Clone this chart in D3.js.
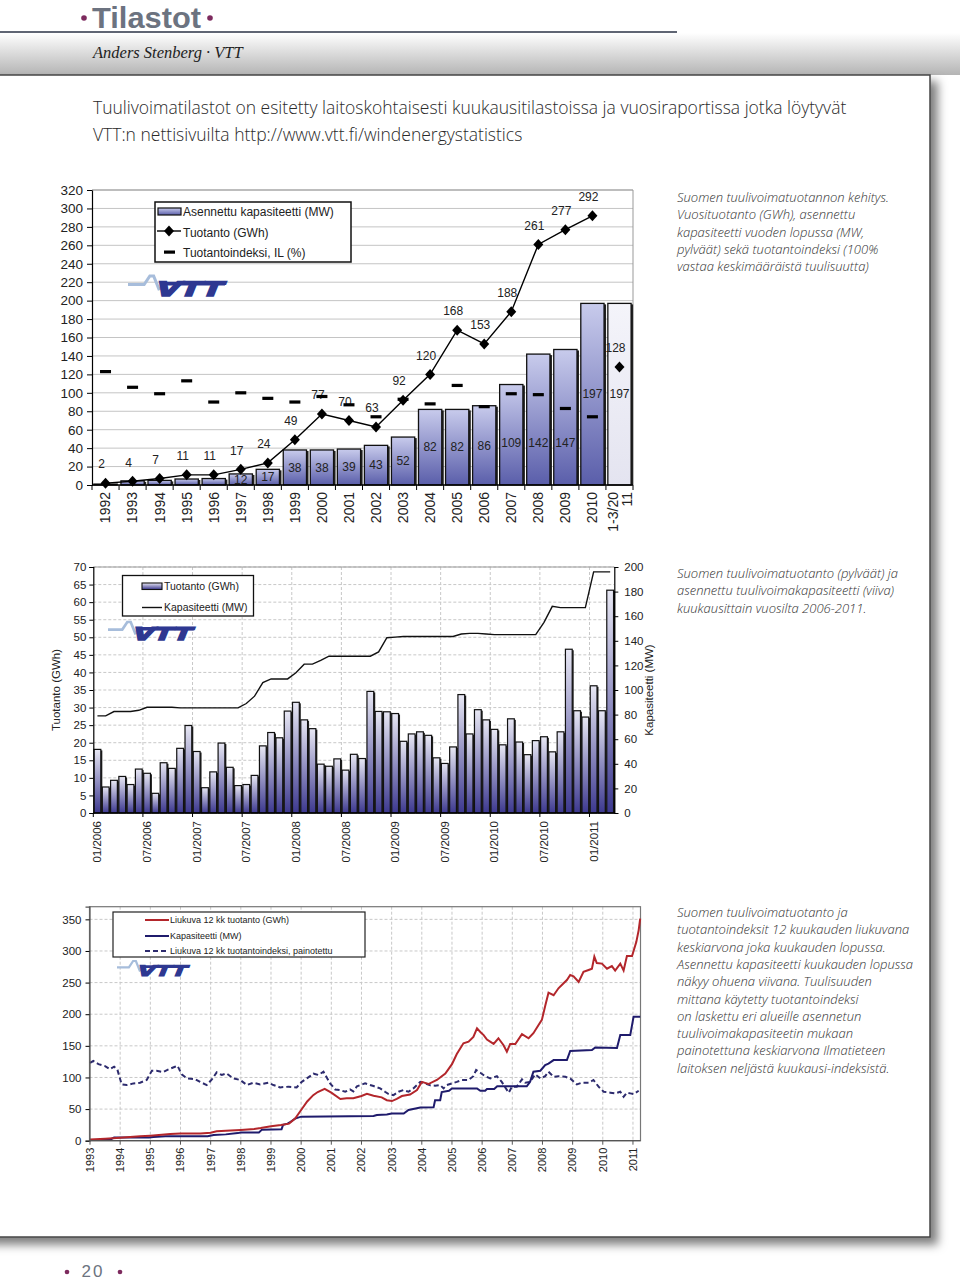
<!DOCTYPE html>
<html><head><meta charset="utf-8">
<script src="https://cdn.jsdelivr.net/npm/d3@7"></script>
<style>
body{margin:0;background:#fff;}
svg{display:block;font-family:"Liberation Sans",Arial,sans-serif;}
</style></head><body>
<svg id="page" width="960" height="1281"></svg>
<script>
// ---------------- DATA ----------------
const annualCategories = ["1992","1993","1994","1995","1996","1997","1998","1999","2000","2001","2002","2003","2004","2005","2006","2007","2008","2009","2010","1-3/2011"];
const annualCapacity = [1,4.5,5,6.5,7,12,17,38,38,39,43,52,82,82,86,109,142,147,197,197];
const annualProduction = [2,4,7,11,11,17,24,49,77,70,63,92,120,168,153,188,261,277,292,128];
const annualIndex = [123,106,99,113,90,100,94,90,96,87,74,93,88,108,85,99,98,83,74,null];
const annualTicks = [0,20,40,60,80,100,120,140,160,180,200,220,240,260,280,300,320];

const monthlyProduction = [
  18.1,7.4,9.3,10.4,8.1,12.5,11.3,5.6,14.3,12.7,18.4,24.9,
  17.5,7.2,11.7,19.9,13.0,7.8,8.1,10.7,19.1,22.9,21.4,29.0,
  31.5,26.5,24.0,13.9,13.3,15.4,12.2,16.7,15.5,34.6,28.9,28.8,
  28.3,20.4,22.5,23.1,22.1,15.7,14.1,18.8,33.7,22.5,29.4,26.5,
  23.8,19.4,26.8,20.2,16.6,20.6,21.7,17.4,23.1,46.6,29.1,27.3,
  36.2,29.1,63.4];
const monthlyCapacity = [
  79,79,82.5,82.5,82.5,83.5,86,86,86,86,85.5,85.5,
  85.5,85.5,85.5,85.5,85.5,85.5,89,95,106,109,109,109,
  114,121,121,124,127.5,127.5,127.5,127.5,127.5,127.5,131,142.5,
  143,143.5,143.5,143.5,143.5,143.5,143.5,143.5,145.5,146,146,145.5,
  145,145,145,145,145,145,155,168,167,167,167,167,
  196,196,196];
const monthTickLabels = ["01/2006","07/2006","01/2007","07/2007","01/2008","07/2008","01/2009","07/2009","01/2010","07/2010","01/2011"];
const prodTicksGWh = [0,5,10,15,20,25,30,35,40,45,50,55,60,65,70];
const capTicksMW = [0,20,40,60,80,100,120,140,160,180,200];

const rollingProduction = [[1993.0,2],[1993.5,3],[1994.0,4.5],[1994.66,7],[1995.0,8],[1995.66,10.5],[1996.0,11.5],[1996.66,11.5],[1997.0,12.5],[1997.2,15],[1997.66,16],[1998.0,17],[1998.44,18.5],[1998.66,20],[1999.0,23],[1999.33,25],[1999.6,27],[1999.8,35],[2000.0,48.5],[2000.2,62],[2000.4,72],[2000.55,77],[2000.78,82],[2001.0,76],[2001.3,66],[2001.51,67],[2001.73,67],[2002.0,70.6],[2002.18,74],[2002.4,71],[2002.67,68.5],[2002.84,64],[2003.01,62.7],[2003.17,66],[2003.34,70.6],[2003.61,73],[2003.84,80],[2004.0,93],[2004.22,89.6],[2004.5,96],[2004.78,106],[2005.0,121],[2005.16,137],[2005.38,154],[2005.55,156.5],[2005.71,164],[2005.83,177.6],[2005.94,172],[2006.05,167],[2006.16,160],[2006.38,153],[2006.54,162],[2006.71,151],[2006.82,140.7],[2006.93,153],[2007.1,153],[2007.32,168.6],[2007.54,162],[2007.7,170],[2007.87,183],[2007.98,191],[2008.09,213],[2008.2,234],[2008.37,230],[2008.53,241],[2008.7,249],[2008.81,254],[2008.92,262],[2009.03,260],[2009.2,251],[2009.36,267],[2009.53,270],[2009.64,272],[2009.72,291],[2009.8,281],[2009.97,280],[2010.14,272],[2010.3,276],[2010.41,269],[2010.58,280],[2010.69,269],[2010.8,292],[2010.97,292],[2011.11,314],[2011.19,333],[2011.24,351]];
const rollingCapacity = [[1993.0,1],[1993.66,1.5],[1993.8,5],[1994.95,5],[1995.1,6],[1995.5,7],[1996.9,7],[1997.1,9],[1997.5,10],[1997.9,12],[1998.0,13],[1998.6,13],[1998.7,17.5],[1999.35,18],[1999.4,25],[1999.55,27],[1999.65,30],[1999.8,35],[2000.0,38],[2002.4,39],[2002.51,40.5],[2002.84,41.6],[2003.0,43],[2003.4,43],[2003.56,48.5],[2003.95,52.5],[2004.39,52.7],[2004.44,64],[2004.61,64],[2004.66,77],[2004.9,79],[2005.0,82.7],[2005.83,82.7],[2005.94,79],[2006.1,79],[2006.16,81.7],[2006.4,81.7],[2006.5,86],[2007.48,86],[2007.59,93],[2007.7,109],[2007.93,110.6],[2008.09,119.6],[2008.2,122],[2008.37,127.5],[2008.81,127.5],[2008.92,142],[2009.64,143.3],[2009.75,147.5],[2010.47,146.5],[2010.58,167],[2010.91,167],[2011.02,196],[2011.24,196]];
const rollingIndex = [[1993.0,123],[1993.11,126],[1993.28,121],[1993.5,118],[1993.66,113],[1993.8,117],[1993.91,112],[1994.05,89],[1994.22,88],[1994.44,90.6],[1994.66,91.7],[1994.88,96],[1995.05,110.6],[1995.21,110.6],[1995.43,108.5],[1995.6,112.7],[1995.82,117],[1995.9,118.5],[1996.04,105],[1996.21,98.5],[1996.48,97.5],[1996.65,93],[1996.87,88],[1997.04,97],[1997.2,108],[1997.37,104],[1997.53,106.4],[1997.75,98.5],[1997.98,96],[1998.2,88],[1998.42,91.7],[1998.64,89],[1998.91,91.7],[1999.08,88],[1999.3,84.3],[1999.58,85.4],[1999.85,84.3],[2000.02,93],[2000.19,98.5],[2000.41,106],[2000.57,104],[2000.74,109],[2000.96,90.6],[2001.13,81],[2001.29,80],[2001.46,77.4],[2001.62,81],[2001.73,78],[2001.85,86],[2002.12,90.6],[2002.4,86.4],[2002.62,82.7],[2002.78,77.4],[2002.9,73.8],[2003.06,72],[2003.23,77.4],[2003.39,80],[2003.56,77.4],[2003.72,82.7],[2003.95,93],[2004.11,90.6],[2004.28,87.5],[2004.44,87],[2004.61,88],[2004.72,82.7],[2004.83,88],[2005.0,90.6],[2005.16,93],[2005.33,96],[2005.55,96],[2005.71,102],[2005.8,111.7],[2005.94,107.5],[2006.1,102],[2006.27,98.5],[2006.49,102],[2006.65,93],[2006.88,75.9],[2006.99,85.4],[2007.15,85.4],[2007.32,97],[2007.43,91.7],[2007.59,93],[2007.76,105],[2007.93,98.5],[2008.09,102],[2008.2,109],[2008.37,101],[2008.53,102],[2008.76,101],[2008.92,98.5],[2009.14,89],[2009.31,91.7],[2009.53,91.7],[2009.69,96],[2009.86,85.4],[2010.03,77.4],[2010.25,75.9],[2010.41,74.8],[2010.58,77.4],[2010.69,69.5],[2010.8,75.9],[2010.91,74.8],[2011.02,73.8],[2011.19,79]];
const yearTicks = [1993,1994,1995,1996,1997,1998,1999,2000,2001,2002,2003,2004,2005,2006,2007,2008,2009,2010,2011];
const rollingTicks = [0,50,100,150,200,250,300,350];

const legend1 = ["Asennettu kapasiteetti (MW)","Tuotanto (GWh)","Tuotantoindeksi, IL (%)"];
const legend2 = ["Tuotanto (GWh)","Kapasiteetti (MW)"];
const legend3 = ["Liukuva 12 kk tuotanto (GWh)","Kapasiteetti (MW)","Liukuva 12 kk tuotantoindeksi, painotettu"];

const introLines = ["Tuulivoimatilastot on esitetty laitoskohtaisesti kuukausitilastoissa ja vuosiraportissa jotka löytyvät","VTT:n nettisivuilta http://www.vtt.fi/windenergystatistics"];
const caption1 = ["Suomen tuulivoimatuotannon kehitys.","Vuosituotanto (GWh), asennettu","kapasiteetti vuoden lopussa (MW,","pylväät) sekä tuotantoindeksi (100%","vastaa keskimääräistä tuulisuutta)"];
const caption2 = ["Suomen tuulivoimatuotanto (pylväät) ja","asennettu tuulivoimakapasiteetti (viiva)","kuukausittain vuosilta 2006-2011."];
const caption3 = ["Suomen tuulivoimatuotanto ja","tuotantoindeksit 12 kuukauden liukuvana","keskiarvona joka kuukauden lopussa.","Asennettu kapasiteetti kuukauden lopussa","näkyy ohuena viivana. Tuulisuuden","mittana käytetty tuotantoindeksi","on laskettu eri alueille asennetun","tuulivoimakapasiteetin mukaan","painotettuna keskiarvona Ilmatieteen","laitoksen neljästä kuukausi-indeksistä."];

// ---------------- PAGE ----------------
const svg = d3.select("#page");
const defs = svg.append("defs");
const TXT = "#222";
const FONT = "'Liberation Sans', Arial, sans-serif";
const CAP_FONT = "'Open Sans', 'Noto Sans', sans-serif";

const flt = defs.append("filter").attr("id","shadow").attr("x","-5%").attr("y","-5%").attr("width","115%").attr("height","115%");
flt.append("feDropShadow").attr("dx",7).attr("dy",7).attr("stdDeviation",5).attr("flood-color","#000").attr("flood-opacity",0.5);

function vgrad(id, stops){
  const g = defs.append("linearGradient").attr("id",id).attr("x1",0).attr("y1",0).attr("x2",0).attr("y2",1);
  stops.forEach(s=>g.append("stop").attr("offset",s[0]).attr("stop-color",s[1]));
}
vgrad("hband",[[0,"#ffffff"],[1,"#b4b4b4"]]);
vgrad("bar1",[[0,"#c8cbec"],[1,"#5a5eaa"]]);
vgrad("bar1last",[[0,"#f4f4fa"],[1,"#e4e4f0"]]);
vgrad("bar2",[[0,"#e8e8f4"],[1,"#3c388f"]]);

svg.append("rect").attr("x",0).attr("y",33).attr("width",960).attr("height",42).attr("fill","url(#hband)");
svg.append("rect").attr("x",-20).attr("y",75).attr("width",950).attr("height",1162)
  .attr("fill","#fff").attr("stroke","#444").attr("stroke-width",1.5).attr("filter","url(#shadow)");
svg.append("line").attr("x1",0).attr("x2",677).attr("y1",32).attr("y2",32).attr("stroke","#5f6573").attr("stroke-width",2);

// title
svg.append("circle").attr("cx",84).attr("cy",18).attr("r",2.8).attr("fill","#7d2a5e");
svg.append("circle").attr("cx",210).attr("cy",18).attr("r",2.8).attr("fill","#7d2a5e");
svg.append("text").attr("x",92).attr("y",28).text("Tilastot")
  .attr("font-family",FONT).attr("font-weight",700).attr("font-size",29).attr("fill","#6c7380")
  .attr("textLength",109).attr("lengthAdjust","spacingAndGlyphs");
svg.append("text").attr("x",93).attr("y",58).text("Anders Stenberg · VTT")
  .attr("font-family","'Liberation Serif', serif").attr("font-style","italic").attr("font-size",16.5).attr("fill","#222");

introLines.forEach((t,i)=>{
  svg.append("text").attr("x",93).attr("y",114+i*27).text(t)
    .attr("font-family","'Open Sans', sans-serif").attr("font-weight",300).attr("font-size",17.5).attr("fill","#2a2a2a");
});

function caption(lines, x, y0, lh){
  lines.forEach((t,i)=>svg.append("text").attr("x",x).attr("y",y0+i*lh).text(t)
    .attr("font-family",CAP_FONT).attr("font-style","italic").attr("font-weight",300).attr("font-size",13).attr("fill","#333"));
}
caption(caption1,677,202,17.3);
caption(caption2,677,578,17.3);
caption(caption3,677,917,17.3);

// page number
svg.append("circle").attr("cx",67).attr("cy",1272).attr("r",2.3).attr("fill","#7d2a5e");
svg.append("circle").attr("cx",120).attr("cy",1272).attr("r",2.3).attr("fill","#7d2a5e");
svg.append("text").attr("x",93).attr("y",1277).attr("text-anchor","middle").text("20")
  .attr("font-family",FONT).attr("font-size",17).attr("letter-spacing",2).attr("fill","#6c7380");

function vttLogo(x, y, s){
  const g = svg.append("g").attr("transform",`translate(${x},${y}) scale(${s})`);
  g.append("path").attr("d","M0,9 L17,9 L23,0 L27,0 L33,15").attr("fill","none").attr("stroke","#a7bddb").attr("stroke-width",3.2);
  const d = g.append("g").attr("transform","translate(30,0) skewX(-22)");
  d.append("rect").attr("x",8).attr("y",6).attr("width",68).attr("height",4).attr("fill","#2e3891");
  d.append("text").attr("x",6).attr("y",21.5).text("VTT").attr("font-family","'DejaVu Sans', sans-serif")
    .attr("font-weight",900).attr("font-size",21).attr("fill","#2e3891").attr("stroke","#2e3891").attr("stroke-width",1.6)
    .attr("textLength",70).attr("lengthAdjust","spacingAndGlyphs");
}

function styleAxis(g, size){
  g.selectAll("text").attr("font-family",FONT).attr("font-size",size).attr("fill",TXT);
  g.selectAll("line").attr("stroke","#000");
  g.select(".domain").attr("stroke","#000").attr("stroke-width",1.2);
}

// ---------------- CHART 1 ----------------
(function(){
  const L=92,R=633,T=190,B=485;
  const x = d3.scaleBand().domain(annualCategories).range([L,R]);
  const y = d3.scaleLinear().domain([0,320]).range([B,T]);
  const g = svg.append("g");
  const bw = x.bandwidth(), cx = c=>x(c)+bw/2;
  g.selectAll(".gl").data(annualTicks.filter(d=>d>0)).join("line")
    .attr("x1",L).attr("x2",R).attr("y1",d=>y(d)).attr("y2",d=>y(d)).attr("stroke","#c4c4c4").attr("stroke-width",1);
  g.append("line").attr("x1",R).attr("x2",R).attr("y1",T).attr("y2",B).attr("stroke","#999");
  const barW = bw*0.86;
  g.selectAll(".bs").data(annualCategories).join("rect")
    .attr("x",c=>cx(c)-barW/2+2).attr("y",(c,i)=>y(annualCapacity[i])+1).attr("width",barW).attr("height",(c,i)=>B-y(annualCapacity[i])-1).attr("fill","#222");
  g.selectAll(".b").data(annualCategories).join("rect")
    .attr("x",c=>cx(c)-barW/2).attr("y",(c,i)=>y(annualCapacity[i])).attr("width",barW).attr("height",(c,i)=>B-y(annualCapacity[i]))
    .attr("fill",(c,i)=>i===annualCategories.length-1?"url(#bar1last)":"url(#bar1)").attr("stroke","#111").attr("stroke-width",1.3);
  g.selectAll(".bl").data(annualCategories.filter((c,i)=>annualCapacity[i]>=12)).join("text")
    .attr("x",c=>cx(c)).attr("y",c=>{const v=annualCapacity[annualCategories.indexOf(c)]; return y(v>190?v/2:Math.min(v/2,46));})
    .attr("dy","0.35em").attr("text-anchor","middle").attr("font-size",12).attr("fill",TXT).attr("font-family",FONT)
    .text(c=>annualCapacity[annualCategories.indexOf(c)]);
  const ya = g.append("g").attr("transform",`translate(${L},0)`).call(d3.axisLeft(y).tickValues(annualTicks).tickSize(5).tickPadding(4));
  styleAxis(ya,13.5);
  g.append("line").attr("x1",L).attr("x2",R).attr("y1",B).attr("y2",B).attr("stroke","#000").attr("stroke-width",1.3);
  g.append("line").attr("x1",L).attr("x2",R).attr("y1",T).attr("y2",T).attr("stroke","#999");
  g.selectAll(".xt").data(annualCategories.concat(["end"])).join("line")
    .attr("x1",(c,i)=>L+i*bw).attr("x2",(c,i)=>L+i*bw).attr("y1",B).attr("y2",B+5).attr("stroke","#000");
  annualCategories.forEach(c=>{
    const parts = c.length>6 ? [c.slice(0,6), c.slice(6)] : [c];
    parts.forEach((p,k)=>{
      const off = parts.length>1 ? (k===0?-6.5:8) : 0;
      g.append("text").attr("transform",`translate(${cx(c)+off},${B+7}) rotate(-90)`)
        .attr("text-anchor","end").attr("dy","0.35em").attr("font-size",14).attr("font-family",FONT).attr("fill",TXT).text(p);
    });
  });
  const n = annualCategories.length-1;
  const line = d3.line().x(d=>cx(d[0])).y(d=>y(d[1]));
  g.append("path").datum(annualCategories.slice(0,n).map((c,i)=>[c,annualProduction[i]]))
    .attr("d",line).attr("fill","none").attr("stroke","#000").attr("stroke-width",1.4);
  const dia = "M0,-5.5L5,0L0,5.5L-5,0Z";
  g.selectAll(".dm").data(annualCategories).join("path")
    .attr("transform",(c,i)=>`translate(${cx(c)},${y(annualProduction[i])})`).attr("d",dia).attr("fill","#000");
  g.selectAll(".pl").data(annualCategories).join("text")
    .attr("x",c=>cx(c)-4).attr("y",(c,i)=>y(annualProduction[i])-19).attr("dy","0.35em")
    .attr("text-anchor","middle").attr("font-size",12).attr("font-family",FONT).attr("fill",TXT)
    .text((c,i)=>annualProduction[i]);
  g.selectAll(".ix").data(annualCategories.filter((c,i)=>annualIndex[i]!=null)).join("rect")
    .attr("x",c=>cx(c)-5.5).attr("y",c=>y(annualIndex[annualCategories.indexOf(c)])-1.6).attr("width",11).attr("height",3.2).attr("fill","#000");
  const lg = g.append("g");
  lg.append("rect").attr("x",155).attr("y",202).attr("width",196).attr("height",60).attr("fill","#fff").attr("stroke","#111").attr("stroke-width",1.5);
  lg.append("rect").attr("x",158).attr("y",208).attr("width",23).attr("height",7).attr("fill","url(#bar1)").attr("stroke","#111").attr("stroke-width",1.2);
  lg.append("line").attr("x1",157).attr("x2",181).attr("y1",231).attr("y2",231).attr("stroke","#000").attr("stroke-width",1.4);
  lg.append("path").attr("transform","translate(169,231)").attr("d",dia).attr("fill","#000");
  lg.append("rect").attr("x",164).attr("y",250.5).attr("width",11).attr("height",3.2).attr("fill","#000");
  legend1.forEach((t,i)=>lg.append("text").attr("x",183).attr("y",212+i*20.5).attr("dy","0.35em")
    .attr("font-size",12).attr("font-family",FONT).attr("fill",TXT).text(t));
  vttLogo(128,276,0.95);
})();

// ---------------- CHART 2 ----------------
(function(){
  const L=93.3,R=614.3,T=567,B=813;
  const months = d3.range(monthlyProduction.length);
  const x = d3.scaleBand().domain(months).range([L,R]);
  const yL = d3.scaleLinear().domain([0,70]).range([B,T]);
  const yR = d3.scaleLinear().domain([0,200]).range([B,T]);
  const g = svg.append("g");
  const bw = x.bandwidth();
  g.selectAll(".gl").data(prodTicksGWh.filter(d=>d>0)).join("line")
    .attr("x1",L).attr("x2",R).attr("y1",d=>yL(d)).attr("y2",d=>yL(d)).attr("stroke","#c8c8c8").attr("stroke-dasharray","3,2");
  g.selectAll(".gv").data(monthTickLabels.slice(1)).join("line")
    .attr("x1",(d,i)=>x((i+1)*6)).attr("x2",(d,i)=>x((i+1)*6)).attr("y1",T).attr("y2",B).attr("stroke","#c8c8c8").attr("stroke-dasharray","3,2");
  g.append("line").attr("x1",L).attr("x2",R).attr("y1",T).attr("y2",T).attr("stroke","#999");
  const barW = bw*0.82;
  g.selectAll(".bs").data(months).join("rect")
    .attr("x",i=>x(i)+(bw-barW)/2+1.5).attr("y",i=>yL(monthlyProduction[i])+1).attr("width",barW).attr("height",i=>B-yL(monthlyProduction[i])-1).attr("fill","#222");
  g.selectAll(".b").data(months).join("rect")
    .attr("x",i=>x(i)+(bw-barW)/2).attr("y",i=>yL(monthlyProduction[i])).attr("width",barW).attr("height",i=>B-yL(monthlyProduction[i]))
    .attr("fill","url(#bar2)").attr("stroke","#111").attr("stroke-width",1.2);
  g.append("path").datum(months).attr("d",d3.line().x(i=>x(i)+bw/2).y(i=>yR(monthlyCapacity[i])))
    .attr("fill","none").attr("stroke","#111").attr("stroke-width",1.4);
  const la = g.append("g").attr("transform",`translate(${L},0)`).call(d3.axisLeft(yL).tickValues(prodTicksGWh).tickSize(4).tickPadding(3));
  styleAxis(la,11.5);
  const ra = g.append("g").attr("transform",`translate(${R},0)`).call(d3.axisRight(yR).tickValues(capTicksMW).tickSize(4).tickPadding(6));
  styleAxis(ra,11.5);
  g.append("line").attr("x1",L).attr("x2",R).attr("y1",B).attr("y2",B).attr("stroke","#000").attr("stroke-width",1.3);
  monthTickLabels.forEach((t,k)=>{
    const i = k*6;
    g.append("line").attr("x1",x(i)).attr("x2",x(i)).attr("y1",B).attr("y2",B+4).attr("stroke","#000");
    g.append("text").attr("transform",`translate(${x(i)+bw/2},${B+8}) rotate(-90)`).attr("text-anchor","end").attr("dy","0.35em")
      .attr("font-size",11.5).attr("font-family",FONT).attr("fill",TXT).text(t);
  });
  g.append("text").attr("transform","translate(56,690) rotate(-90)").attr("text-anchor","middle").attr("dy","0.35em")
    .attr("font-size",11.5).attr("font-family",FONT).attr("fill",TXT).text("Tuotanto (GWh)");
  g.append("text").attr("transform","translate(649,690) rotate(-90)").attr("text-anchor","middle").attr("dy","0.35em")
    .attr("font-size",11.5).attr("font-family",FONT).attr("fill",TXT).text("Kapasiteetti (MW)");
  const lg = g.append("g");
  lg.append("rect").attr("x",122.5).attr("y",575.5).attr("width",131).attr("height",40.5).attr("fill","#fff").attr("stroke","#111").attr("stroke-width",1.3);
  lg.append("rect").attr("x",142).attr("y",583).attr("width",20).attr("height",6.5).attr("fill","url(#bar2)").attr("stroke","#111").attr("stroke-width",1.1);
  lg.append("line").attr("x1",142).attr("x2",162).attr("y1",607.5).attr("y2",607.5).attr("stroke","#111").attr("stroke-width",1.4);
  legend2.forEach((t,i)=>lg.append("text").attr("x",164).attr("y",586+i*21.5).attr("dy","0.35em")
    .attr("font-size",10.5).attr("font-family",FONT).attr("fill",TXT).text(t));
  vttLogo(108,622,0.84);
})();

// ---------------- CHART 3 ----------------
(function(){
  const L=89.5,R=640.5,T=906.7,B=1140.7;
  const x = d3.scaleLinear().domain([1993,2011.25]).range([90,R]);
  const y = d3.scaleLinear().domain([0,370]).range([B,T]);
  const g = svg.append("g");
  g.selectAll(".gl").data(rollingTicks.filter(d=>d>0)).join("line")
    .attr("x1",L).attr("x2",R).attr("y1",d=>y(d)).attr("y2",d=>y(d)).attr("stroke","#c8c8c8").attr("stroke-dasharray","3,2");
  g.selectAll(".gv").data(yearTicks.slice(1)).join("line")
    .attr("x1",d=>x(d)).attr("x2",d=>x(d)).attr("y1",T).attr("y2",B).attr("stroke","#c8c8c8").attr("stroke-dasharray","3,2");
  g.append("rect").attr("x",L).attr("y",T).attr("width",R-L).attr("height",B-T).attr("fill","none").attr("stroke","#777").attr("stroke-width",1.2);
  const line = d3.line().x(d=>x(d[0])).y(d=>y(d[1]));
  g.append("path").datum(rollingIndex).attr("d",line).attr("fill","none").attr("stroke","#2d2b6e").attr("stroke-width",2).attr("stroke-dasharray","5,3");
  g.append("path").datum(rollingCapacity).attr("d",line).attr("fill","none").attr("stroke","#1f1b6c").attr("stroke-width",2);
  g.append("path").datum(rollingProduction).attr("d",line).attr("fill","none").attr("stroke","#b3262b").attr("stroke-width",2);
  const ya = g.append("g").attr("transform",`translate(${L},0)`).call(d3.axisLeft(y).tickValues(rollingTicks).tickSize(4).tickPadding(4));
  styleAxis(ya,11.5);
  ya.select(".domain").attr("stroke","#555");
  g.append("line").attr("x1",L).attr("x2",R).attr("y1",B).attr("y2",B).attr("stroke","#555").attr("stroke-width",1.3);
  yearTicks.forEach(t=>{
    g.append("line").attr("x1",x(t)).attr("x2",x(t)).attr("y1",B).attr("y2",B+4).attr("stroke","#555");
    g.append("text").attr("transform",`translate(${x(t)},${B+7}) rotate(-90)`).attr("text-anchor","end").attr("dy","0.35em")
      .attr("font-size",11).attr("font-family",FONT).attr("fill",TXT).text(t);
  });
  const lg = g.append("g");
  lg.append("rect").attr("x",113).attr("y",912).attr("width",252).attr("height",45).attr("fill","#fff").attr("stroke","#222").attr("stroke-width",1.2);
  lg.append("line").attr("x1",145).attr("x2",169).attr("y1",920).attr("y2",920).attr("stroke","#b3262b").attr("stroke-width",2);
  lg.append("line").attr("x1",145).attr("x2",169).attr("y1",936).attr("y2",936).attr("stroke","#1f1b6c").attr("stroke-width",2);
  lg.append("line").attr("x1",145).attr("x2",169).attr("y1",951).attr("y2",951).attr("stroke","#2d2b6e").attr("stroke-width",2).attr("stroke-dasharray","5,3");
  legend3.forEach((t,i)=>lg.append("text").attr("x",170).attr("y",920+i*15.5).attr("dy","0.35em")
    .attr("font-size",9).attr("font-family",FONT).attr("fill",TXT).text(t));
  vttLogo(117,961,0.7);
})();
</script>
</body></html>
